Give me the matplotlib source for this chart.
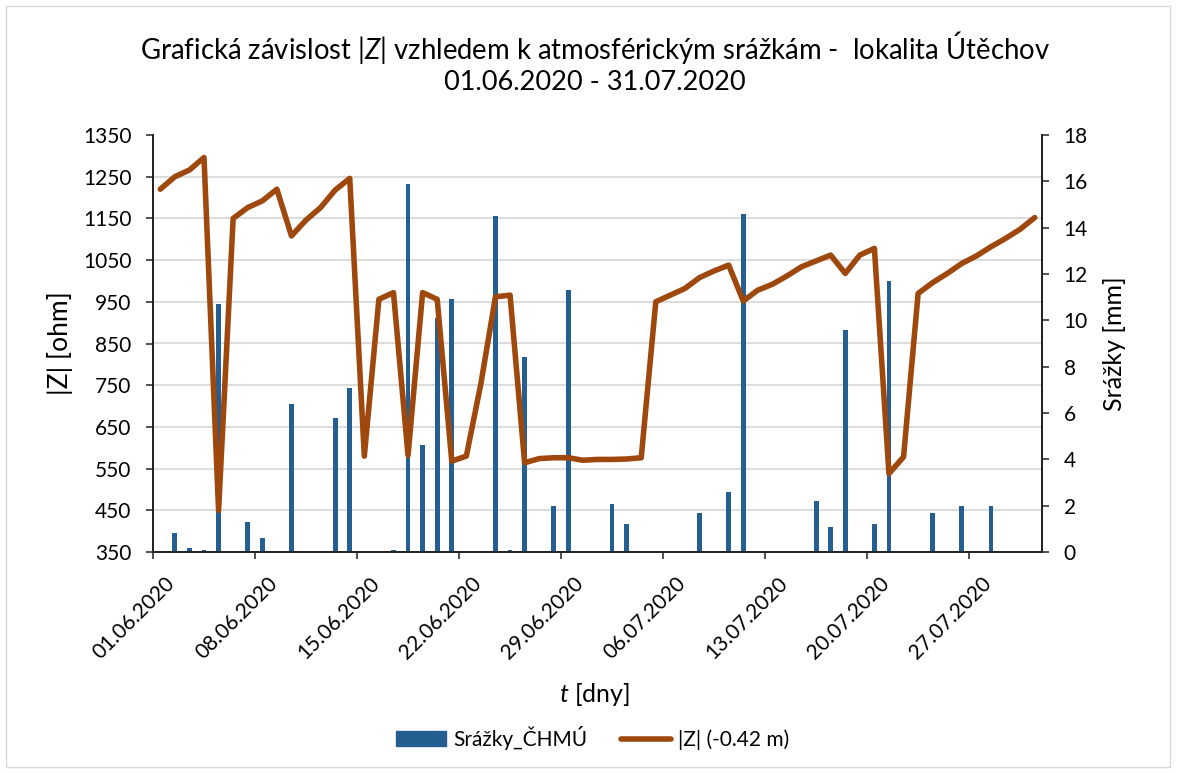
import matplotlib.pyplot as plt
from matplotlib.patches import Rectangle, Patch
from matplotlib.lines import Line2D
from matplotlib.transforms import ScaledTranslation
import numpy as np

plt.rcParams['font.family'] = ['Lato', 'DejaVu Sans']
plt.rcParams['mathtext.fontset'] = 'custom'
plt.rcParams['mathtext.it'] = 'Lato:italic'
plt.rcParams['mathtext.rm'] = 'Lato'

# day index 0 = 01.06.2020 ... 60 = 31.07.2020
z_ohm = [1220, 1250, 1266, 1296, 450, 1150, 1176, 1192, 1220, 1108,
         1146, 1176, 1218, 1246, 580, 956, 972, 582, 972, 956,
         568, 580, 754, 962, 966, 564, 574, 576, 576, 570,
         572, 572, 573, 576, 950, 966, 982, 1008, 1024, 1038,
         952, 978, 992, 1012, 1034, 1048, 1062, 1018, 1062, 1078,
         538, 578, 970, 996, 1018, 1042, 1060, 1082, 1102, 1124,
         1152]

# srazky (day index, mm)
rain_day = [1, 2, 3, 4, 6, 7, 9, 12, 13, 16, 17, 18, 19, 20,
            23, 24, 25, 27, 28, 31, 32, 37, 39, 40,
            45, 46, 47, 49, 50, 53, 55, 57]
rain_mm = [0.8, 0.19, 0.1, 10.7, 1.28, 0.6, 6.4, 5.8, 7.1, 0.1, 15.9, 4.6, 10.08, 10.9,
           14.5, 0.1, 8.4, 2.0, 11.3, 2.09, 1.2, 1.7, 2.6, 14.6,
           2.19, 1.08, 9.6, 1.2, 11.7, 1.68, 1.99, 1.99]

tick_days = [0, 7, 14, 21, 28, 35, 42, 49, 56]
tick_labels = ['01.06.2020', '08.06.2020', '15.06.2020', '22.06.2020', '29.06.2020',
               '06.07.2020', '13.07.2020', '20.07.2020', '27.07.2020']

blue = '#255E91'
brown = '#9E480E'

W, H = 1178, 773
fig = plt.figure(figsize=(W / 100, H / 100), dpi=100)
ax = fig.add_axes([153 / W, 1 - 552 / H, (1042 - 153) / W, (552 - 135) / H])
ax2 = ax.twinx()

# sloupce na prave ose
ax2.bar(np.array(rain_day) + 0.5, rain_mm, width=0.33, color=blue, zorder=3)
ax2.set_ylim(0, 18)
ax2.set_yticks(np.arange(0, 19, 2))
# mrizka podle leve osy (100 ohm = 1.8 mm)
ax2.set_yticks(np.arange(0, 18.01, 1.8), minor=True)
ax2.grid(True, which='minor', axis='y', color='#d9d9d9', lw=1.3, zorder=0)
ax2.tick_params(axis='y', which='minor', length=0)

# |Z| na leve ose, nad sloupci
x = np.arange(len(z_ohm)) + 0.5
ax.plot(x, z_ohm, color=brown, lw=4.0, solid_joinstyle='round', solid_capstyle='round')
ax.set_zorder(ax2.get_zorder() + 1)
ax.patch.set_visible(False)
ax.set_ylim(350, 1350)
ax.set_yticks(np.arange(350, 1351, 100))
ax.set_xlim(0, 61)
ax.set_xticks(tick_days)
ax.set_xticklabels(tick_labels, rotation=45, ha='right', va='top', rotation_mode='anchor')

for a in (ax, ax2):
    a.spines['top'].set_visible(False)
    for s in ('left', 'right', 'bottom'):
        a.spines[s].set_color('#222222')
        a.spines[s].set_linewidth(1.3)
    a.tick_params(axis='both', which='major', labelsize=15, length=5, width=1.1,
                  direction='out', pad=10.5, colors='#222222', labelcolor='black')

# posun popisku data doprava jako v Excelu
shift = ScaledTranslation(12 / 100, 0, fig.dpi_scale_trans)
for lab in ax.get_xticklabels():
    lab.set_transform(lab.get_transform() + shift)

ax.set_ylabel('|Z| [ohm]', fontsize=19)
ax.yaxis.set_label_coords(-0.090, 0.5)
ax2.set_ylabel('Srážky [mm]', fontsize=18)
ax2.yaxis.set_label_coords(1.0686, 0.5)
ax.set_xlabel('$t$ [dny]', fontsize=18)
ax.xaxis.set_label_coords(0.497, -0.309)

fig.text(0.505, 1 - 48 / H, 'Grafická závislost |$Z$| vzhledem k atmosférickým srážkám -  lokalita Útěchov',
         ha='center', va='center', fontsize=19.8)
fig.text(0.505, 1 - 82 / H, '01.06.2020 - 31.07.2020', ha='center', va='center', fontsize=19.5)

handles = [Patch(color=blue), Line2D([], [], color=brown, lw=4.0, solid_capstyle='round')]
fig.legend(handles, ['Srážky_ČHMÚ', '|Z| (-0.42 m)'], loc='center', ncol=2,
           bbox_to_anchor=(0.503, 1 - 738 / H), frameon=False, fontsize=15,
           handlelength=2.4, handleheight=0.7, handletextpad=0.35, columnspacing=1.6)

fig.patches.append(Rectangle((6 / W, 6 / H), 1 - 14 / W, 1 - 12 / H, transform=fig.transFigure,
                             fill=False, edgecolor='#d9d9d9', lw=1))

fig.savefig('out.png', dpi=100)
